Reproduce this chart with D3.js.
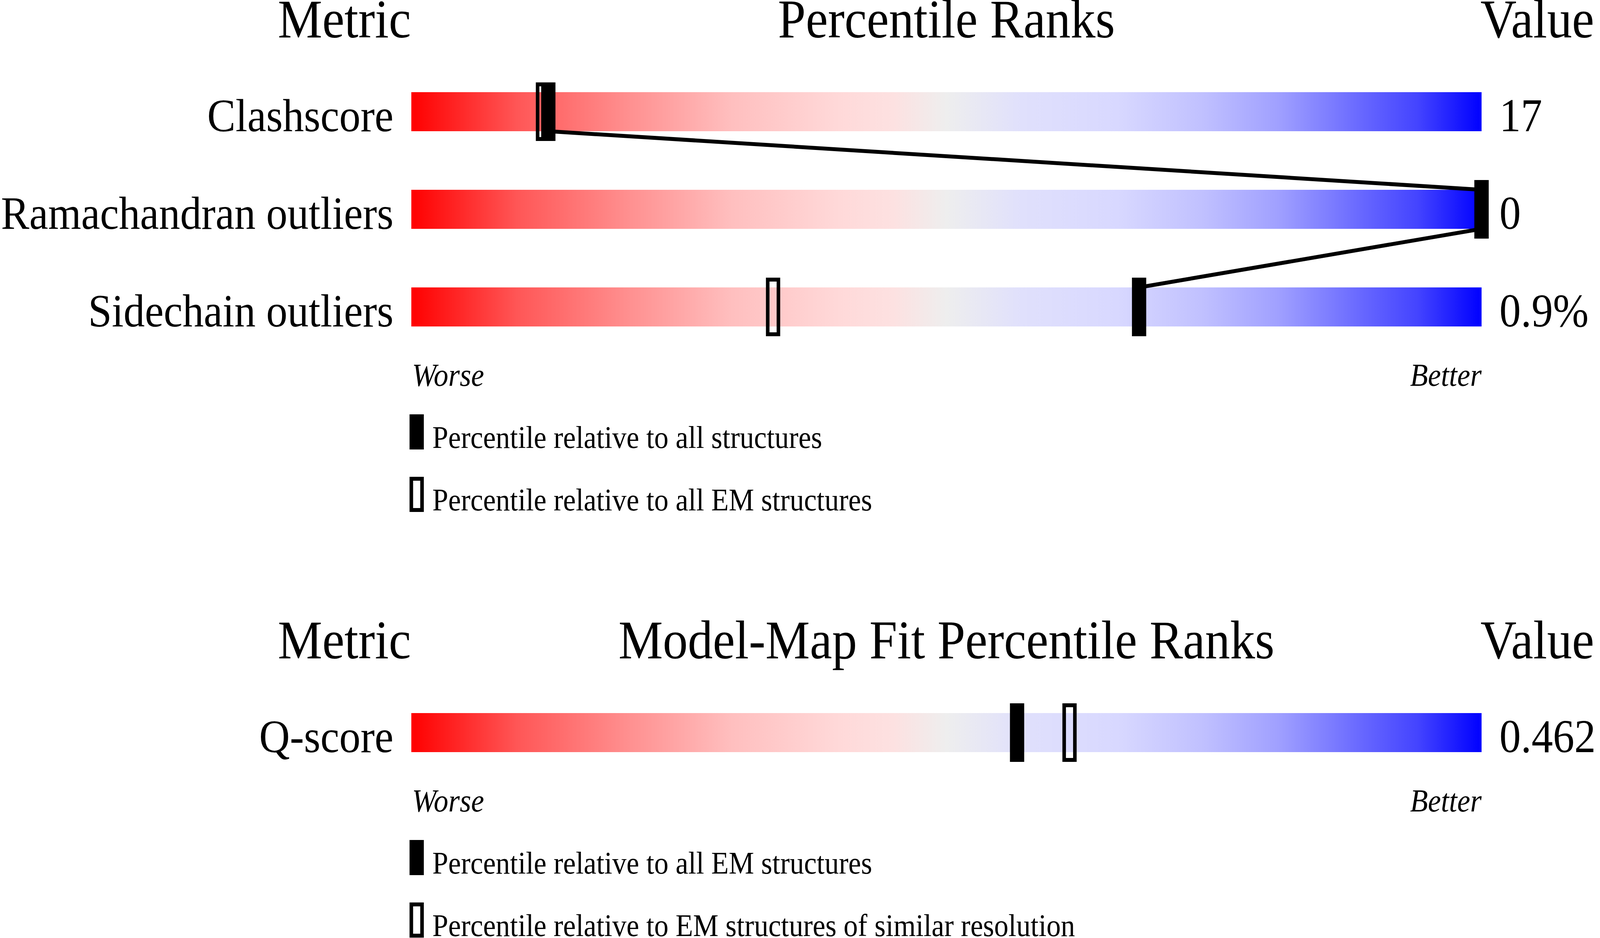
<!DOCTYPE html>
<html>
<head>
<meta charset="utf-8">
<script src="https://cdn.jsdelivr.net/npm/d3@7"></script>
<style>
  html, body { margin: 0; padding: 0; background: #fff; overflow: hidden; }
  svg { display: block; width: 100vw; height: 100vh; }
  text { font-family: "Liberation Serif", "Times New Roman", serif; fill: #000; }
</style>
</head>
<body>
<script>
// Geometry panel (percentile ranks)
var geoMetrics   = ["Clashscore", "Ramachandran outliers", "Sidechain outliers"];
var geoValues    = ["17", "0", "0.9%"];
var geoPctAll    = [12.8, 100, 68.0];
var geoPctEM     = [12.3, 100, 33.8];
var geoLegend    = ["Percentile relative to all structures",
                    "Percentile relative to all EM structures"];

// Model-map fit panel
var fitMetrics   = ["Q-score"];
var fitValues    = ["0.462"];
var fitPctAll    = [56.6];
var fitPctEM     = [61.5];
var fitLegend    = ["Percentile relative to all EM structures",
                    "Percentile relative to EM structures of similar resolution"];

// Slider gradient stops (worse -> better)
var gradOffsets  = [0, 0.1, 0.2, 0.3, 0.4, 0.45, 0.5, 0.57, 0.66, 0.74, 0.81, 0.89, 0.94, 1];
var gradColors   = ["#ff0000", "#ff5757", "#ff8e8e", "#ffbfbf", "#ffd9d9", "#fde1e1", "#eeeeee",
                    "#e0e0fc", "#d8d8ff", "#c0c0ff", "#a0a0ff", "#6666ff", "#4444ff", "#0000ff"];

var W = 4485, H = 2402;

// the drawing is laid out in a 4485x2402 box and stretched to the window
var svg = d3.select("body").append("svg")
    .attr("viewBox", "0 0 " + W + " " + H)
    .attr("preserveAspectRatio", "none");

var grad = svg.append("defs").append("linearGradient")
    .attr("id", "slider")
    .attr("x1", "0%").attr("x2", "100%")
    .attr("y1", "0%").attr("y2", "0%");

grad.selectAll("stop")
    .data(gradOffsets)
    .enter().append("stop")
    .attr("offset", function(d) { return d; })
    .attr("stop-color", function(d, i) { return gradColors[i]; });

var x = d3.scaleLinear().domain([0, 100]).range([1153, 4153]);

var barH = 100, rowStep = 250, markW = 40, markH = 150;

/**
 * Draws one block of sliders: header, bars, markers, connecting line and legend.
 */
function drawPanel(top, title, metrics, values, pctAll, pctEM, legend) {
    var g = svg.append("g").attr("transform", "translate(0," + top + ")");
    var n = metrics.length;
    var pad = (rowStep - barH) / rowStep;

    // step stays rowStep and first band starts at 236, for any n
    var y = d3.scaleBand()
        .domain(metrics)
        .range([236 - rowStep * pad / 2, 236 - rowStep * pad / 2 + rowStep * n])
        .paddingInner(pad)
        .paddingOuter(pad / 2);

    // headers
    g.append("text").attr("x", x(0) - 1).attr("y", 96)
        .attr("text-anchor", "end").style("font-size", "140px").text("Metric");
    g.append("text").attr("x", (x(0) + x(100)) / 2).attr("y", 96)
        .attr("text-anchor", "middle").style("font-size", "140px").text(title);
    g.append("text").attr("x", x(100) - 3).attr("y", 96)
        .style("font-size", "140px").text("Value");

    // bars
    g.selectAll("rect.bar")
        .data(metrics)
        .enter().append("rect")
        .attr("class", "bar")
        .attr("x", x(0))
        .attr("y", function(d) { return y(d); })
        .attr("width", x(100) - x(0))
        .attr("height", y.bandwidth())
        .attr("fill", "url(#slider)");

    // metric labels and values
    g.selectAll("text.label")
        .data(metrics)
        .enter().append("text")
        .attr("class", "label")
        .attr("x", x(0) - 50)
        .attr("y", function(d) { return y(d) + y.bandwidth(); })
        .attr("text-anchor", "end")
        .style("font-size", "119px")
        .text(function(d) { return d; });

    g.selectAll("text.value")
        .data(values)
        .enter().append("text")
        .attr("class", "value")
        .attr("x", x(100) + 50)
        .attr("y", function(d, i) { return y(metrics[i]) + y.bandwidth(); })
        .style("font-size", "120px")
        .text(function(d) { return d; });

    // line joining the filled markers
    if (n > 1) {
        var pts = [];
        for (var i = 0; i < n - 1; i++) {
            pts.push([[x(pctAll[i]), y(metrics[i]) + y.bandwidth()],
                      [x(pctAll[i + 1]), y(metrics[i + 1])]]);
        }
        g.selectAll("path.link")
            .data(pts)
            .enter().append("path")
            .attr("class", "link")
            .attr("d", d3.line())
            .attr("fill", "none")
            .attr("stroke", "#000")
            .attr("stroke-width", 10);
    }

    // open markers (EM)
    g.selectAll("rect.em")
        .data(pctEM)
        .enter().append("rect")
        .attr("class", "em")
        .attr("x", function(d) { return x(d) - markW / 2 + 5; })
        .attr("y", function(d, i) { return y(metrics[i]) - 25 + 5; })
        .attr("width", markW - 10)
        .attr("height", markH - 10)
        .attr("fill", "none")
        .attr("stroke", "#000")
        .attr("stroke-width", 10);

    // filled markers (all)
    g.selectAll("rect.all")
        .data(pctAll)
        .enter().append("rect")
        .attr("class", "all")
        .attr("x", function(d) { return x(d) - markW / 2; })
        .attr("y", function(d, i) { return y(metrics[i]) - 25; })
        .attr("width", markW)
        .attr("height", markH)
        .attr("fill", "#000");

    var last = y(metrics[n - 1]) + y.bandwidth();

    g.append("text").attr("x", x(0) + 2).attr("y", last + 152)
        .style("font-size", "82px").style("font-style", "italic").text("Worse");
    g.append("text").attr("x", x(100)).attr("y", last + 152)
        .attr("text-anchor", "end")
        .style("font-size", "82px").style("font-style", "italic").text("Better");

    // legend
    var leg = g.selectAll("g.leg")
        .data(legend)
        .enter().append("g")
        .attr("class", "leg")
        .attr("transform", function(d, i) {
            return "translate(1148," + (last + 225 + i * 160) + ")";
        });

    leg.append("rect")
        .attr("x", function(d, i) { return i === 0 ? 0 : 5; })
        .attr("y", function(d, i) { return i === 0 ? 0 : 5; })
        .attr("width", function(d, i) { return i === 0 ? 40 : 30; })
        .attr("height", function(d, i) { return i === 0 ? 90 : 80; })
        .attr("fill", function(d, i) { return i === 0 ? "#000" : "none"; })
        .attr("stroke", function(d, i) { return i === 0 ? "none" : "#000"; })
        .attr("stroke-width", 10);

    leg.append("text")
        .attr("x", 64)
        .attr("y", 86)
        .style("font-size", "80px")
        .text(function(d) { return d; });
}

drawPanel(0, "Percentile Ranks", geoMetrics, geoValues, geoPctAll, geoPctEM, geoLegend);
drawPanel(1590, "Model-Map Fit Percentile Ranks", fitMetrics, fitValues, fitPctAll, fitPctEM, fitLegend);
</script>
</body>
</html>
